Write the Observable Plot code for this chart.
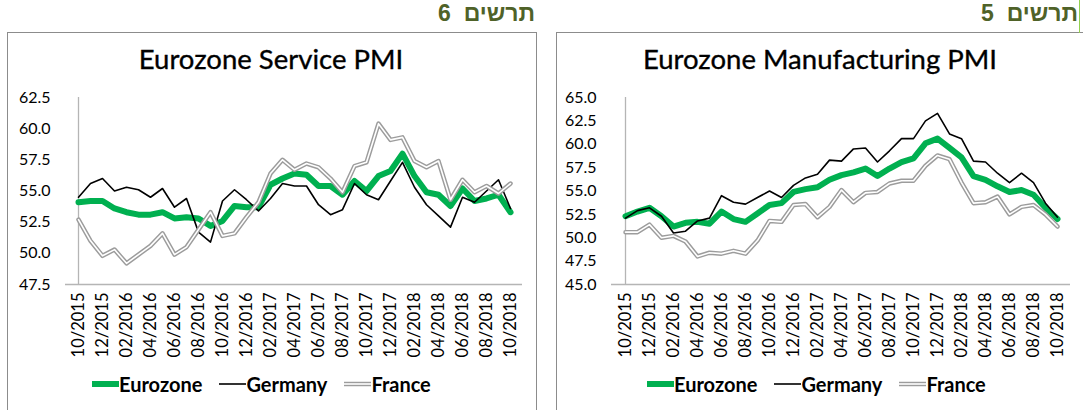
<!DOCTYPE html>
<html><head><meta charset="utf-8">
<script src="https://cdn.jsdelivr.net/npm/d3@7"></script>
<script src="https://cdn.jsdelivr.net/npm/@observablehq/plot@0.6"></script>
<style>
body{margin:0;background:#fff;width:1083px;height:410px;overflow:hidden;position:relative;font-family:Lato,"Open Sans",sans-serif;}
.frame{position:absolute;border:1px solid #8c8c8c;top:32px;height:420px;box-sizing:border-box;}
.heb{position:absolute;top:0px;font:bold 23px "Liberation Sans","DejaVu Sans",sans-serif;color:#4f6228;white-space:pre;}
.title{position:absolute;top:42px;font-size:27.5px;color:#000;white-space:nowrap;transform:translateX(-50%);-webkit-text-stroke:0.35px #000;}
.legend{position:absolute;top:372px;display:flex;align-items:center;font-weight:bold;font-size:20px;color:#000;white-space:nowrap;}
.legend svg{display:block}
.legend .gap{width:17px}
.chart{position:absolute;top:80px;}
.cursor{position:absolute;left:1079px;top:0;width:1px;height:33px;background:#92d050;}
</style></head><body>
<div class="frame" style="left:7px;width:530px"></div>
<div class="frame" style="left:556px;width:560px"></div>
<div class="heb" dir="rtl" style="right:548px">תרשים  6</div>
<div class="heb" dir="rtl" style="right:5px">תרשים  5</div>
<div class="cursor"></div>
<div class="title" style="left:271px">Eurozone Service PMI</div>
<div class="title" style="left:820px">Eurozone Manufacturing PMI</div>
<div id="c1" class="chart" style="left:0px"></div>
<div id="c2" class="chart" style="left:545px"></div>
<div id="l1" class="legend" style="left:92px"></div>
<div id="l2" class="legend" style="left:647px"></div>
<script>
const months = ["10/2015","11/2015","12/2015","01/2016","02/2016","03/2016","04/2016","05/2016","06/2016","07/2016","08/2016","09/2016","10/2016","11/2016","12/2016","01/2017","02/2017","03/2017","04/2017","05/2017","06/2017","07/2017","08/2017","09/2017","10/2017","11/2017","12/2017","01/2018","02/2018","03/2018","04/2018","05/2018","06/2018","07/2018","08/2018","09/2018","10/2018"];
const tickLabels = ["10/2015","12/2015","02/2016","04/2016","06/2016","08/2016","10/2016","12/2016","02/2017","04/2017","06/2017","08/2017","10/2017","12/2017","02/2018","04/2018","06/2018","08/2018","10/2018"];
const seriesNames = ["Eurozone","Germany","France"];

const svcEurozone = [54.1,54.2,54.2,53.6,53.3,53.1,53.1,53.3,52.8,52.9,52.8,52.2,52.6,53.8,53.7,53.7,55.5,56.0,56.4,56.3,55.4,55.4,54.7,55.8,55.0,56.2,56.6,58.0,56.2,54.9,54.7,53.8,55.2,54.2,54.4,54.7,53.3];
const svcGermany  = [54.5,55.6,56.0,55.0,55.3,55.1,54.5,55.2,53.7,54.4,51.7,50.9,54.2,55.1,54.3,53.4,54.4,55.6,55.4,55.4,53.9,53.1,53.5,55.6,54.7,54.3,55.8,57.3,55.3,53.9,53.0,52.1,54.5,54.1,55.0,55.9,53.6];
const svcFrance   = [52.7,51.0,49.8,50.3,49.2,49.9,50.6,51.6,49.9,50.5,51.9,53.3,51.4,51.6,52.9,54.1,56.4,57.5,56.7,57.2,56.9,56.0,54.9,57.0,57.3,60.4,59.1,59.3,57.4,56.9,57.4,54.3,55.9,54.9,55.4,54.8,55.6];

const mfgEurozone = [52.3,52.8,53.2,52.3,51.2,51.6,51.7,51.5,52.8,52.0,51.7,52.6,53.5,53.7,54.9,55.2,55.4,56.2,56.7,57.0,57.4,56.6,57.4,58.1,58.5,60.1,60.6,59.6,58.6,56.6,56.2,55.5,54.9,55.1,54.6,53.2,52.0];
const mfgGermany  = [52.1,52.9,53.2,52.3,50.5,50.7,51.8,52.1,54.5,53.8,53.6,54.3,55.0,54.3,55.6,56.4,56.8,58.3,58.2,59.5,59.6,58.1,59.3,60.6,60.6,62.5,63.3,61.1,60.6,58.2,58.1,56.9,55.9,56.9,55.9,53.7,52.2];
const mfgFrance   = [50.6,50.6,51.4,50.0,50.2,49.6,48.0,48.4,48.3,48.6,48.3,49.7,51.8,51.7,53.5,53.6,52.2,53.3,55.1,53.8,54.8,54.9,55.8,56.1,56.1,57.7,58.8,58.4,55.9,53.7,53.8,54.4,52.5,53.3,53.5,52.5,51.2];

const svcTicks = [47.5,50,52.5,55,57.5,60,62.5];
const mfgTicks = [45,47.5,50,52.5,55,57.5,60,62.5,65];

function rows(s){ return months.map((m,i)=>({m, v:s[i]})); }

function makeChart(eur, ger, fra, yTicks, width, ml, mr){
  const yd = [yTicks[0], yTicks[yTicks.length-1]];
  return Plot.plot({
    width, height:300, marginLeft:ml, marginRight:mr, marginTop:17, marginBottom:96,
    style:{fontFamily:"Lato, sans-serif", fontSize:"16px", color:"#000", background:"transparent", overflow:"visible"},
    x:{type:"point", domain:months, padding:0},
    y:{domain:yd},
    marks:[
      Plot.ruleX([months[0]], {stroke:"#b5b5b5", strokeWidth:1.3}),
      Plot.ruleY([yd[0]], {stroke:"#b5b5b5", strokeWidth:1.3}),
      Plot.axisY({ticks:yTicks, tickSize:0, tickPadding:15, tickFormat:d=>d.toFixed(1), label:null, fontSize:16}),
      Plot.axisX({ticks:tickLabels, tickSize:0, tickPadding:8, tickRotate:-90, label:null, fontSize:16.5}),
      Plot.line(rows(eur), {x:"m", y:"v", stroke:"#00b050", strokeWidth:6}),
      Plot.line(rows(ger), {x:"m", y:"v", stroke:"#000", strokeWidth:1.6}),
      Plot.line(rows(fra), {x:"m", y:"v", stroke:"#9c9c9c", strokeWidth:4.5}),
      Plot.line(rows(fra), {x:"m", y:"v", stroke:"#fff", strokeWidth:1.6})
    ]
  });
}

document.getElementById("c1").append(makeChart(svcEurozone, svcGermany, svcFrance, svcTicks, 545, 65, 23));
document.getElementById("c2").append(makeChart(mfgEurozone, mfgGermany, mfgFrance, mfgTicks, 538, 66, 13));

function swatch(kind){
  const ns="http://www.w3.org/2000/svg";
  const svg=document.createElementNS(ns,"svg");
  svg.setAttribute("width",27); svg.setAttribute("height",12);
  const mk=(stroke,w)=>{const l=document.createElementNS(ns,"line");l.setAttribute("x1",0);l.setAttribute("x2",27);l.setAttribute("y1",6);l.setAttribute("y2",6);l.setAttribute("stroke",stroke);l.setAttribute("stroke-width",w);svg.append(l);};
  if(kind===0) mk("#00b050",6);
  else if(kind===1) mk("#000",1.6);
  else { mk("#9c9c9c",4.5); mk("#fff",1.6); }
  return svg;
}
function legend(id){
  const el=document.getElementById(id);
  seriesNames.forEach((n,i)=>{
    if(i>0){const g=document.createElement("span");g.className="gap";el.append(g);}
    el.append(swatch(i));
    const t=document.createElement("span");t.textContent=n;el.append(t);
  });
}
legend("l1"); legend("l2");
</script>
</body></html>
